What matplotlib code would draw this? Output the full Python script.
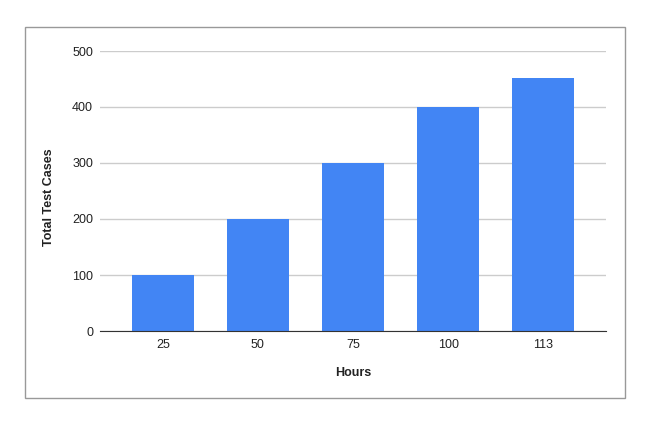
import matplotlib.pyplot as plt
import numpy as np
from matplotlib.patches import Rectangle

hours = ["25", "50", "75", "100", "113"]
test_cases = [100, 200, 300, 400, 452]
yticks = [0, 100, 200, 300, 400, 500]

plt.rcParams['font.family'] = ['Liberation Sans', 'DejaVu Sans']

fig = plt.figure(figsize=(6.7, 4.29), dpi=100)
ax = fig.add_axes([100/670, 1-331/429, 506/670, 280/429])

x = np.arange(len(hours))
ax.bar(x, test_cases, width=0.65, color="#4285f4", zorder=3)
ax.set_xlim(-0.66, len(hours)-1+0.66)
ax.set_ylim(0, 500)
ax.set_yticks(yticks)
ax.set_xticks(x)
ax.set_xticklabels(hours)
ax.grid(axis="y", color="#cccccc", linewidth=1, zorder=0)
for s in ["top", "right", "left"]:
    ax.spines[s].set_visible(False)
ax.spines["bottom"].set_color("#333333")
ax.spines["bottom"].set_zorder(4)
ax.tick_params(length=0, labelsize=9, colors="#222222")
ax.tick_params(axis="y", pad=5)
ax.tick_params(axis="x", pad=6)
ax.set_xlabel("Hours", fontsize=9, fontweight="bold", color="#222222", labelpad=11)
ax.set_ylabel("Total Test Cases", fontsize=9, fontweight="bold", color="#222222")
ax.yaxis.set_label_coords(-0.088, 0.477)

fig.patches.append(Rectangle((25/670, 1-398/429), 600/670, 371/429, transform=fig.transFigure,
                             fill=False, edgecolor="#999999", linewidth=1))

fig.savefig("out.png", dpi=100)
